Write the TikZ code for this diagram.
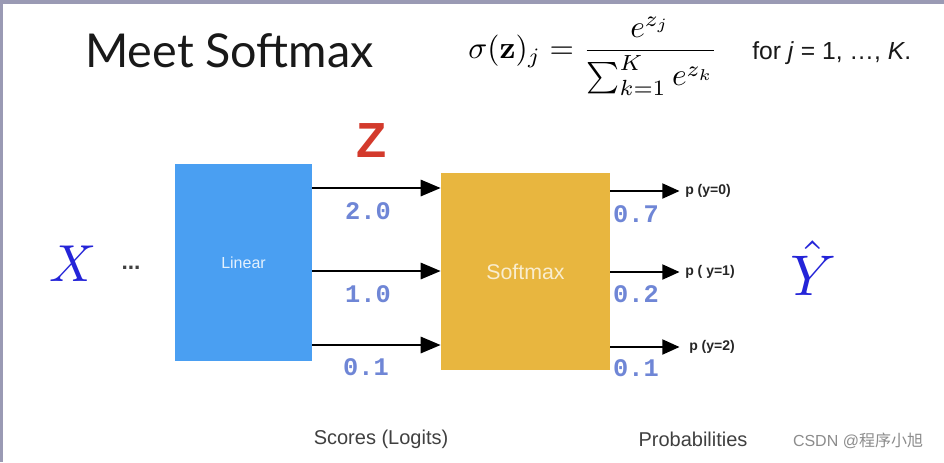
\documentclass[tikz,border=0pt]{standalone}
\usepackage{amsmath}
\usepackage{graphicx}
\usepackage[no-math]{fontspec}
\setmainfont{Liberation Sans}
\newfontfamily\titlefont{Lato}
\newfontfamily\monofont{Liberation Mono}
\newfontfamily\cjkfont{Noto Sans CJK SC}
\usetikzlibrary{arrows.meta}
\definecolor{linblue}{HTML}{4A9FF2}
\definecolor{smyellow}{HTML}{E8B63F}
\definecolor{numblue}{HTML}{6F86D6}
\definecolor{zred}{HTML}{D33A2C}
\definecolor{xblue}{HTML}{2424D8}
\definecolor{edgegray}{HTML}{9A9AB4}
\tikzset{
  boxnode/.style={inner sep=0pt, draw=none},
  arr/.style={line width=2.2pt, -{Triangle[length=15pt,width=12pt]}},
  arrs/.style={line width=2.2pt, -{Triangle[length=13pt,width=11pt]}},
  numlab/.style={font=\monofont\bfseries\fontsize{19}{20}\selectfont, text=numblue, inner sep=0pt},
  plab/.style={font=\bfseries\fontsize{10.5}{12}\selectfont, text=black!85, inner sep=0pt, anchor=west},
  caplab/.style={font=\fontsize{15}{18}\selectfont, text=black!75, inner sep=0pt}
}
\begin{document}
\begin{tikzpicture}[x=0.75pt,y=-0.75pt]
\useasboundingbox (0,0) rectangle (944,462);
\fill[white] (0,0) rectangle (944,462);
\fill[edgegray] (0,0) rectangle (944,4);
\fill[edgegray] (0,0) rectangle (3,462);

% title and formula
\node[inner sep=0pt, anchor=base west, font=\titlefont\fontsize{35}{38}\selectfont, text=black!90] (title) at (85,67) {Meet Softmax};
\node[inner sep=0pt] (formula) at (593,56) {\scalebox{2.35}{$\displaystyle \sigma(\mathbf{z})_j=\frac{e^{z_j}}{\sum_{k=1}^{K}e^{z_k}}$}};
\node[inner sep=0pt, anchor=base west, font=\fontsize{18.5}{20}\selectfont, text=black!90] (forj) at (752,59) {for \textit{j} = 1, \dots, \textit{K}.};

% boxes
\node[boxnode, fill=linblue, minimum width=102.75pt, minimum height=147.75pt,
      text=white!85!linblue, font=\fontsize{12}{14}\selectfont] (lin) at (243.5,262.5) {Linear};
\node[boxnode, fill=smyellow, minimum width=126.75pt, minimum height=147.75pt,
      text=white!75!smyellow, font=\fontsize{16}{18}\selectfont] (sm) at (525.5,271.5) {Softmax};

% input side
\node[inner sep=0pt, text=xblue] (X) at (73,264) {\scalebox{3.9}{$X$}};
\node[inner sep=0pt, font=\bfseries\fontsize{17}{18}\selectfont, text=black!75] (dots) at (131,268) {...};
\node[inner sep=0pt, font=\bfseries\fontsize{37}{40}\selectfont, text=zred] (Z) at (372,141) {Z};

% score arrows
\draw[arr] (lin.east |- 0,188) -- (sm.west |- 0,188);
\draw[arr] (lin.east |- 0,271) -- (sm.west |- 0,271);
\draw[arr] (lin.east |- 0,345) -- (sm.west |- 0,345);
\node[numlab] (s1) at (368,211) {2.0};
\node[numlab] (s2) at (368,294) {1.0};
\node[numlab] (s3) at (366,367) {0.1};

% output labels
\node[plab] (p0) at (685,191) {p (y=0)};
\node[plab] (p1) at (685,272) {p ( y=1)};
\node[plab] (p2) at (689,347) {p (y=2)};
\draw[arrs] (sm.east |- p0) -- ([xshift=-4pt]p0.west);
\draw[arrs] (sm.east |- p1) -- ([xshift=-4pt]p1.west);
\draw[arrs] (sm.east |- p2) -- ([xshift=-7pt]p2.west);
\node[numlab] (q1) at (636,214) {0.7};
\node[numlab] (q2) at (636,294) {0.2};
\node[numlab] (q3) at (636,368) {0.1};

\node[inner sep=0pt, text=xblue] (Yhat) at (813,268) {\scalebox{4.3}{$\hat{Y}$}};

% captions
\node[caplab] (scores) at (381,439) {Scores (Logits)};
\node[caplab] (probs) at (693,439) {Probabilities};
\node[inner sep=0pt, font=\fontsize{12}{14}\selectfont, text=black!45] (wm) at (858,441) {CSDN @{\cjkfont 程序小旭}};
\end{tikzpicture}
\end{document}
